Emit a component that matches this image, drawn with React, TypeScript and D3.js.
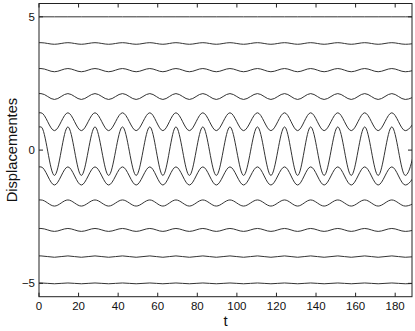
import * as d3 from "d3";

// displacement offsets of each chain site, top to bottom
const siteOffsets = [5, 4, 3, 2, 1, 0, -1, -2, -3, -4, -5];
// deviation at the crests / troughs for each site
const crestDev = [0, 0.03, 0.06, 0.12, 0.4, 0.87, 0.37, 0.13, 0.06, 0.03, 0.015];
const troughDev = [0, -0.03, -0.06, -0.1, -0.27, -0.95, -0.31, -0.1, -0.05, -0.02, -0.015];
// times of the crests and troughs (shared, all sites move in phase)
const crestTimes = [1.0, 14.6, 28.3, 42.2, 56.0, 69.2, 82.8, 96.5, 110.4, 124.1, 137.3, 151.0, 164.6, 178.3, 192.0];
const troughTimes = [7.8, 21.4, 35.2, 49.1, 62.6, 76.0, 89.6, 103.4, 117.2, 130.7, 144.1, 157.8, 171.4, 185.1];

const xTicks = [0, 20, 40, 60, 80, 100, 120, 140, 160, 180];
const yTicks = [-5, 0, 5];

const W = 415;
const H = 331;
const left = 39;
const right = 412;
const top = 3.5;
const bottom = 296.7;

export default function App() {
  const x = d3.scaleLinear().domain([0, 188.5]).range([left, right]);
  const y = d3.scaleLinear().domain([-5.5, 5.5]).range([bottom, top]);

  const line = d3
    .line<[number, number]>()
    .x((d) => x(d[0]))
    .y((d) => y(d[1]))
    .curve(d3.curveMonotoneX);

  const series = siteOffsets.map((off, i) => {
    const pts: [number, number][] = [];
    crestTimes.forEach((t) => pts.push([t, off + crestDev[i]]));
    troughTimes.forEach((t) => pts.push([t, off + troughDev[i]]));
    pts.push([0, off + crestDev[i]]);
    pts.sort((a, b) => a[0] - b[0]);
    return pts;
  });

  const font = "'Liberation Sans', Arial, sans-serif";
  const tickLen = 4;

  return (
    <svg
      width={W}
      height={H}
      style={{ position: "absolute", left: 0, top: 0, background: "#fff" }}
    >
      <defs>
        <clipPath id="plot">
          <rect x={left} y={top} width={right - left} height={bottom - top} />
        </clipPath>
      </defs>
      <rect x={0} y={0} width={W} height={H} fill="#fff" />

      <g clipPath="url(#plot)">
        {series.map((pts, i) => (
          <path key={i} d={line(pts) || ""} fill="none" stroke="#333" strokeWidth={1} />
        ))}
      </g>

      <rect
        x={left}
        y={top}
        width={right - left}
        height={bottom - top}
        fill="none"
        stroke="#222"
        strokeWidth={1}
      />

      {xTicks.map((t) => (
        <g key={"x" + t}>
          <line x1={x(t)} x2={x(t)} y1={bottom} y2={bottom - tickLen} stroke="#222" />
          <line x1={x(t)} x2={x(t)} y1={top} y2={top + tickLen} stroke="#222" />
          <text
            x={x(t)}
            y={310}
            textAnchor="middle"
            fontFamily={font}
            fontSize={11.5}
            fill="#111"
          >
            {t}
          </text>
        </g>
      ))}

      {yTicks.map((t) => (
        <g key={"y" + t}>
          <line x1={left} x2={left + tickLen} y1={y(t)} y2={y(t)} stroke="#222" />
          <line x1={right} x2={right - tickLen} y1={y(t)} y2={y(t)} stroke="#222" />
          <text
            x={left - 4}
            y={y(t) + 4}
            textAnchor="end"
            fontFamily={font}
            fontSize={11.5}
            fill="#111"
          >
            {t < 0 ? "\u2212" + Math.abs(t) : t}
          </text>
        </g>
      ))}

      <text
        x={(left + right) / 2}
        y={325.5}
        textAnchor="middle"
        fontFamily={font}
        fontSize={15}
        fill="#111"
      >
        t
      </text>
      <text
        transform={`translate(16.5,${(top + bottom) / 2}) rotate(-90)`}
        textAnchor="middle"
        fontFamily={font}
        fontSize={14.7}
        fill="#111"
      >
        Displacementes
      </text>
    </svg>
  );
}
